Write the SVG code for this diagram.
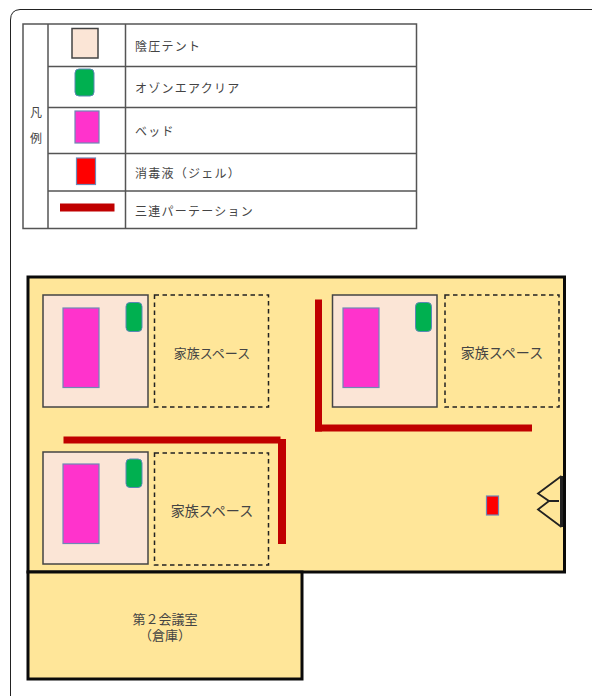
<svg xmlns="http://www.w3.org/2000/svg" width="592" height="696" viewBox="0 0 592 696">
<style>
text{font-family:"Noto Sans CJK JP","Liberation Sans",sans-serif;fill:#444;font-size:12px}
.lg{letter-spacing:1.25px;dominant-baseline:middle}
.c{text-anchor:middle}
.f13{font-size:13px}
.f14{font-size:14px}
.g{stroke:#555;stroke-width:1.5;fill:none}
.tent{fill:#fbe5d6;stroke:#444;stroke-width:1.5}
.oz{fill:#00b050;stroke:#5b87b5;stroke-width:1}
.bed{fill:#ff33cc;stroke:#6f87b5;stroke-width:1.2}
.gel{fill:#f00;stroke:#6f87b5;stroke-width:1.2}
.part{fill:#c00000}
.fam{fill:none;stroke:#222;stroke-width:1.5;stroke-dasharray:4.500 3.500}
.room{fill:#ffe699;stroke:#0a0a0a;stroke-width:3}
</style>
<rect width="592" height="696" fill="#fff"/>
<path id="frame" d="M10.500 696V20Q10.500 10 20 9.500H592" fill="none" stroke="#222" stroke-width="1"/>
<g id="legend">
<path class="g" d="M23 24H416.500V228.500H23ZM48 24V228.500M125.500 24V228.500M48 66.500H416M48 107.500H416M48 153.500H416M48 191H416"/>
<text class="c" x="36" y="114" dominant-baseline="middle">凡</text>
<text class="c" x="36" y="140" dominant-baseline="middle">例</text>
<rect class="tent" x="72" y="28.500" width="26" height="29.500"/>
<rect class="oz" x="75" y="69" width="19" height="27" rx="4"/>
<rect class="bed" x="75" y="111" width="24" height="32"/>
<rect class="gel" x="76.500" y="158" width="19" height="26.500"/>
<rect class="part" x="60" y="203.500" width="54.500" height="8"/>
<text class="lg" x="135" y="47.500">陰圧テント</text>
<text class="lg" x="135" y="89.500">オゾンエアクリア</text>
<text class="lg" x="135" y="132.500">ベッド</text>
<text class="lg" x="135" y="175">消毒液（ジェル）</text>
<text class="lg" x="135" y="212.500">三連パーテーション</text>
</g>
<g id="hall"><rect class="room" x="28" y="277" width="536.500" height="295"/></g>
<g id="room2">
<rect class="room" x="28" y="572" width="274" height="107"/>
<text class="c f13" x="165" y="624">第２会議室</text>
<text class="c f13" x="165" y="640">（倉庫）</text>
</g>
<g id="tent1">
<rect class="tent" x="43" y="295" width="105" height="112"/>
<rect class="bed" x="63" y="308" width="36" height="79.500"/>
<rect class="oz" x="126" y="302.500" width="16" height="29" rx="4"/>
</g>
<g id="family1">
<rect class="fam" x="154.500" y="295" width="114" height="112"/>
<text class="c f13" x="212" y="358">家族スペース</text>
</g>
<g id="tent2">
<rect class="tent" x="332.500" y="295" width="104.500" height="112"/>
<rect class="bed" x="343" y="308" width="36" height="79.500"/>
<rect class="oz" x="415.500" y="302.500" width="16" height="29" rx="4"/>
</g>
<g id="family2">
<rect class="fam" x="445" y="295" width="114" height="112"/>
<text class="c f14" x="502" y="358">家族スペース</text>
</g>
<g id="tent3">
<rect class="tent" x="43" y="452" width="105" height="112"/>
<rect class="bed" x="63" y="464" width="36" height="79.500"/>
<rect class="oz" x="126" y="459" width="16" height="28.500" rx="4"/>
</g>
<g id="family3">
<rect class="fam" x="154.500" y="453" width="114" height="112"/>
<text class="c f14" x="212" y="516">家族スペース</text>
</g>
<g id="partitions">
<rect class="part" x="63.500" y="436.500" width="217" height="7"/>
<rect class="part" x="278" y="439" width="8" height="105"/>
<rect class="part" x="315" y="299.500" width="7" height="132"/>
<rect class="part" x="315" y="424.500" width="217" height="7"/>
</g>
<g id="gel"><rect class="gel" x="486.500" y="496" width="12" height="19"/></g>
<g id="door" fill="none" stroke="#222" stroke-width="1.800">
<path d="M561.500 476V527" stroke-width="3"/>
<path d="M561.500 476L538 493.500L549 501L559 501"/>
<path d="M561.500 527L538 509.500L549 501"/>
</g>
</svg>
